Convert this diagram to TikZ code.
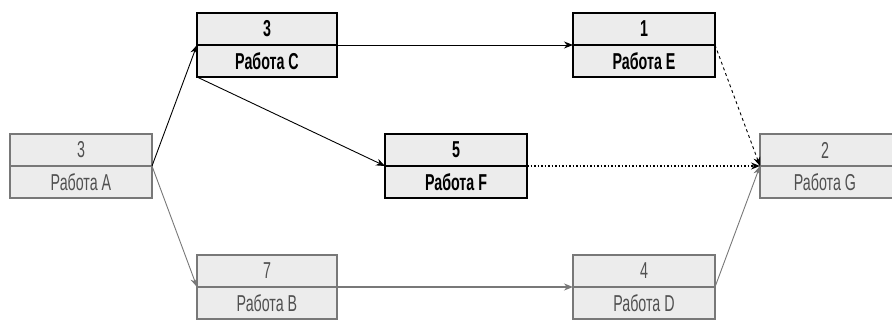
\documentclass[tikz,border=0pt]{standalone}
\usepackage{fontspec}
\setmainfont{Liberation Sans}[FakeStretch=0.62]
\usetikzlibrary{calc,positioning,arrows.meta}
\definecolor{boxfill}{RGB}{236,236,236}
\definecolor{dimline}{RGB}{120,120,120}
\definecolor{dimtext}{RGB}{80,80,80}
\tikzset{
	job/.style={draw,fill=boxfill,minimum width=142pt,minimum height=32pt,
		inner sep=0pt,outer sep=0pt,font=\fontsize{23}{24}\selectfont},
	crit/.style={job,line width=1.2pt,font=\fontsize{23}{24}\selectfont\bfseries},
	slack/.style={job,draw=dimline,text=dimtext,line width=1.2pt},
	tip/.style={-{Stealth[length=9pt,width=7pt]}},
}

\begin{document}
\begin{tikzpicture}[x=1pt,y=-1pt]
	\clip (0,0) rectangle (892,320);
	% job boxes: -1 duration, -2 name
	\node (A-1) [slack] at (81,150) {3};
	\node (A-2) [slack,below=0pt of A-1] {Работа A};
	\node (C-1) [crit,minimum width=140pt] at (267,29) {3};
	\node (C-2) [crit,minimum width=140pt,below=0pt of C-1] {Работа C};
	\node (F-1) [crit] at (456,150) {5};
	\node (F-2) [crit,below=0pt of F-1] {Работа F};
	\node (E-1) [crit] at (644,29) {1};
	\node (E-2) [crit,below=0pt of E-1] {Работа E};
	\node (B-1) [slack,minimum width=140pt] at (267,271) {7};
	\node (B-2) [slack,minimum width=140pt,below=0pt of B-1] {Работа B};
	\node (D-1) [slack] at (644,271) {4};
	\node (D-2) [slack,below=0pt of D-1] {Работа D};
	\node (G-1) [slack,minimum width=136pt,anchor=west] at (760,150) {\hspace*{-6pt}2};
	\node (G-2) [slack,minimum width=136pt,below=0pt of G-1] {\hspace*{-6pt}Работа G};
	% shadow under each box
	\foreach \n/\c in {A/dimline,B/dimline,D/dimline,G/dimline,C/black,E/black,F/black}
		\draw[\c,line width=2.8pt] (\n-2.south west) -- (\n-2.south east);
	\path[tip,line width=0.9pt]
	(A-1.south east) edge (C-1.south west)
	(A-1.south east) edge [dimline] (B-1.south west)
	(C-2.south west) edge (F-1.south west)
	(C-1.south east) edge (E-1.south west)
	(B-1.south east) edge [dimline,line width=1.8pt] (D-1.south west)
	(D-1.south east) edge [dimline] (G-1.south west)
	(E-1.south east) edge [dashed] (G-1.south west)
	(F-1.south east) edge [dotted,line width=1.5pt] (G-1.south west);
\end{tikzpicture}
\end{document}
